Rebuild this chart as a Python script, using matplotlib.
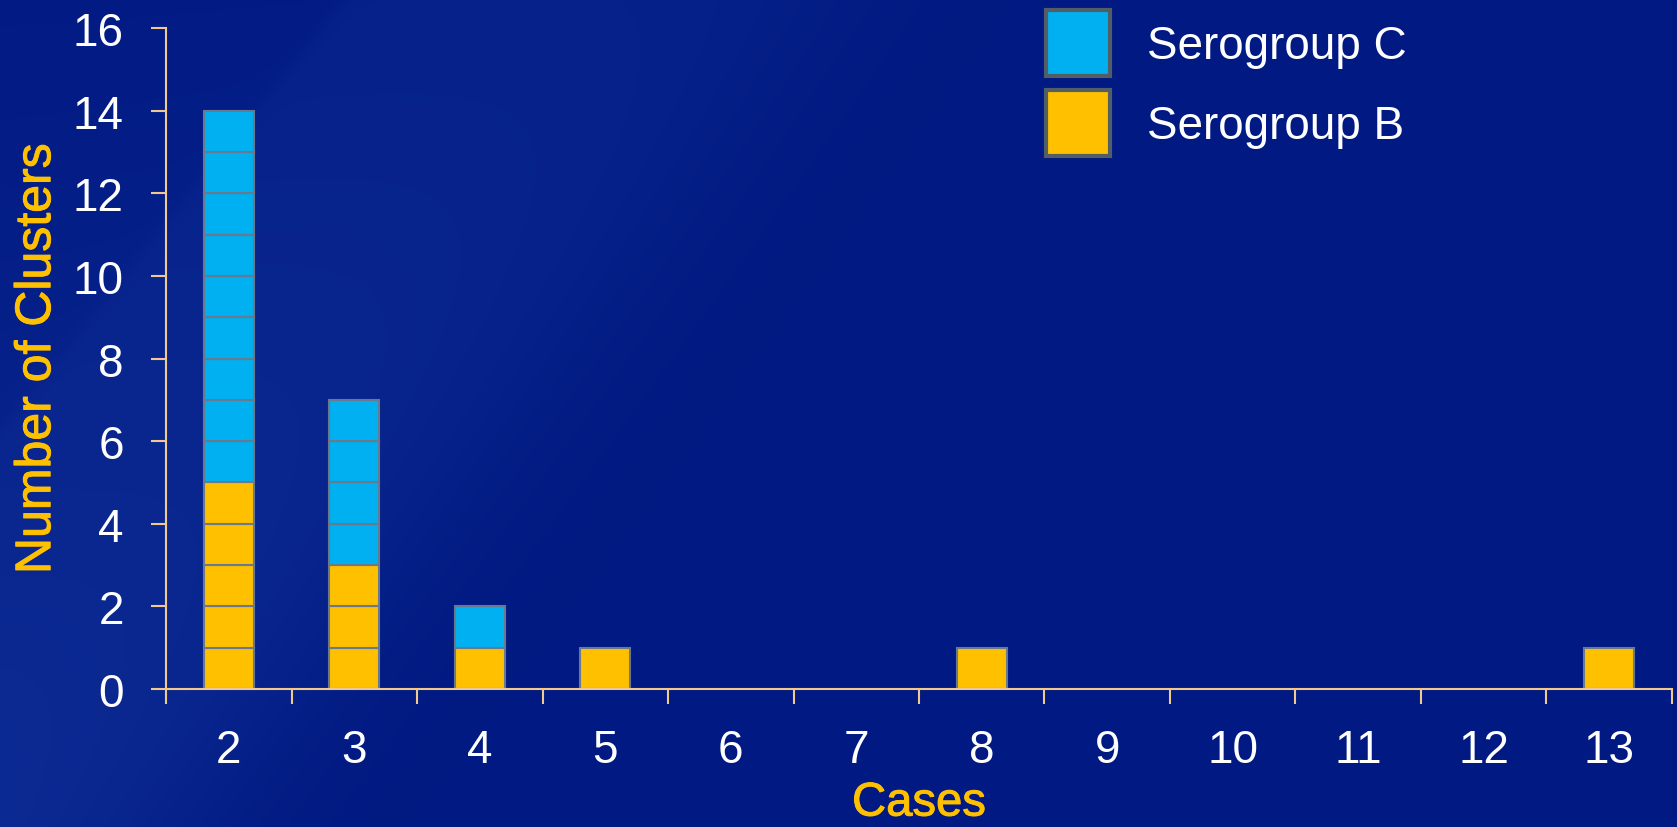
import numpy as np
import matplotlib.pyplot as plt
import matplotlib.patheffects as pe
from matplotlib.patches import Patch

# clusters by number of cases
cases = ['2', '3', '4', '5', '6', '7', '8', '9', '10', '11', '12', '13']
serogroup_b = [5, 3, 1, 1, 0, 0, 1, 0, 0, 0, 0, 1]
serogroup_c = [9, 4, 1, 0, 0, 0, 0, 0, 0, 0, 0, 0]

gold = '#FFC000'
cyan = '#00B0F0'
edge = '#6A7A8E'
spine = '#F2C98C'

plt.rcParams['font.family'] = ['Liberation Sans', 'DejaVu Sans']

W, H = 1677, 828
fig = plt.figure(figsize=(W / 100, H / 100), dpi=100)

# slide background: navy with a lighter diagonal sweep on the left
bg = fig.add_axes([0, 0, 1, 1])
px, py = np.meshgrid(np.arange(W), np.arange(H))
u = px + 0.8 * py
sig = lambda z: 1 / (1 + np.exp(-z))
sweep = sig((u - 345) / 6) * sig((820 - u) / 70) * (0.45 + 0.55 * np.clip(py / H, 0, 1))
corner = sig((345 - u) / 6) * (0.3 + 0.5 * np.clip(py / 420, 0, 1))
base = np.array([0.004, 0.10, 0.51])
light = np.array([0.05, 0.17, 0.58])
dark = np.array([0.0, 0.08, 0.50])
img = base + sweep[..., None] * (light - base) + corner[..., None] * (light - base) * 0.6
img = img + sig((250 - u) / 120)[..., None] * (dark - base) * 0.4
bg.imshow(np.clip(img, 0, 1), extent=[0, W, H, 0], aspect='auto')
bg.set_xlim(0, W)
bg.set_ylim(H, 0)
bg.axis('off')

ax = fig.add_axes([0.099, 0.1667, 0.898, 0.798])
ax.patch.set_alpha(0)

x = np.arange(len(cases))
b = np.array(serogroup_b)
c = np.array(serogroup_c)

# one block per cluster, stacked
for k in range(b.max()):
    sel = b > k
    ax.bar(x[sel], 1, bottom=k, width=0.4, color=gold, edgecolor=edge, linewidth=1.5)
for k in range(c.max()):
    sel = c > k
    ax.bar(x[sel], 1, bottom=b[sel] + k, width=0.4, color=cyan, edgecolor=edge, linewidth=1.5)

ax.set_xlim(-0.5, len(cases) - 0.5)
ax.set_ylim(0, 16)
ax.set_yticks(range(0, 17, 2))
ax.set_xticks(np.arange(-0.5, len(cases)), labels=[''] * (len(cases) + 1))
ax.set_xticks(x, labels=cases, minor=True)

for s in ['top', 'right']:
    ax.spines[s].set_visible(False)
for s in ['left', 'bottom']:
    ax.spines[s].set_color(spine)
    ax.spines[s].set_linewidth(1.5)

ax.tick_params(axis='both', which='major', colors=spine, length=10.5, width=1.5,
               labelcolor='white', labelsize=33)
ax.tick_params(axis='x', which='minor', length=0, labelcolor='white', labelsize=33, pad=28)
ax.tick_params(axis='y', pad=20)

# slightly heavier axis titles
heavy = [pe.withStroke(linewidth=0.7, foreground=gold)]
ax.set_xlabel('Cases', color=gold, fontsize=34, labelpad=7, path_effects=heavy)
ax.set_ylabel('Number of Clusters', color=gold, fontsize=36, labelpad=9, path_effects=heavy)

handles = [Patch(facecolor=cyan, edgecolor='#525E66', linewidth=3),
           Patch(facecolor=gold, edgecolor='#525E66', linewidth=3)]
fig.legend(handles, ['Serogroup C', 'Serogroup B'], loc='upper left',
           bbox_to_anchor=(1046 / W, 1 - 11 / H), frameon=False, fontsize=33,
           labelcolor='white', handlelength=1.4, handleheight=1.84, handletextpad=0.8,
           labelspacing=0.3, borderpad=0, borderaxespad=0)

fig.savefig('out.png', dpi=100)
